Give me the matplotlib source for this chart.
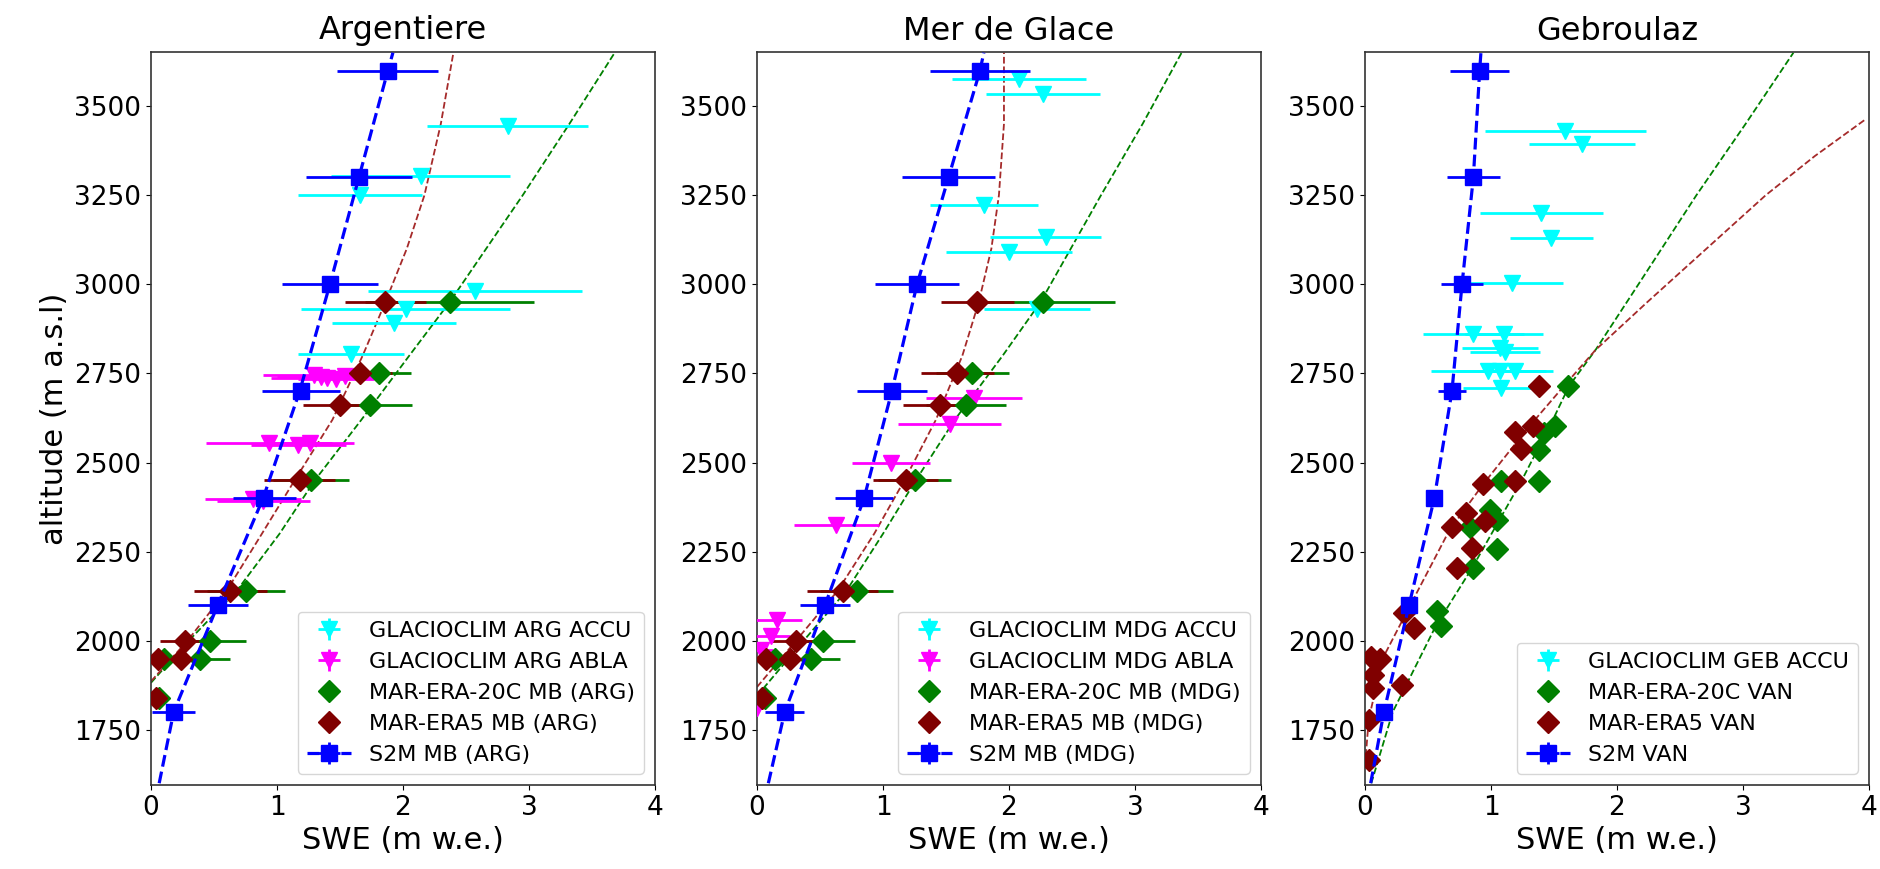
import numpy as np
import matplotlib.pyplot as plt

plt.rcParams['font.family'] = 'DejaVu Sans'

# ---------------- Argentiere ----------------
arg_s2m_alt = [1800, 2100, 2400, 2700, 3000, 3300, 3600]
arg_s2m_swe = [0.18, 0.53, 0.90, 1.19, 1.42, 1.65, 1.88]
arg_s2m_err = [0.17, 0.24, 0.25, 0.31, 0.38, 0.42, 0.40]
arg_s2m_fit_alt = [1600, 1800, 2100, 2400, 2700, 3000, 3300, 3600, 3650]
arg_s2m_fit_swe = [0.065, 0.18, 0.53, 0.89, 1.18, 1.42, 1.65, 1.88, 1.92]

arg_accu_alt = [3445, 3304, 3252, 2982, 2931, 2891, 2804]
arg_accu_swe = [2.83, 2.14, 1.66, 2.57, 2.02, 1.93, 1.59]
arg_accu_err = [0.64, 0.71, 0.49, 0.85, 0.83, 0.49, 0.42]

arg_abla_alt = [2745, 2740, 2737, 2735, 2742, 2555, 2550, 2555, 2398, 2393]
arg_abla_swe = [1.29, 1.35, 1.40, 1.47, 1.54, 0.94, 1.17, 1.26, 0.81, 0.89]
arg_abla_err = [0.40, 0.35, 0.45, 0.30, 0.30, 0.50, 0.38, 0.35, 0.38, 0.37]

mar_alt = [2950, 2750, 2660, 2450, 2140, 2000, 1948, 1948, 1840]
arg_20c_swe = [2.37, 1.81, 1.74, 1.27, 0.755, 0.47, 0.39, 0.10, 0.06]
arg_20c_err = [0.67, 0.25, 0.33, 0.30, 0.31, 0.28, 0.24, 0.0, 0.0]
arg_era5_swe = [1.86, 1.66, 1.50, 1.18, 0.63, 0.27, 0.24, 0.055, 0.04]
arg_era5_err = [0.32, 0.25, 0.29, 0.28, 0.29, 0.20, 0.0, 0.0, 0.0]

arg_era5_fit_alt = [1886, 2000, 2140, 2300, 2450, 2620, 2800, 2950, 3100, 3250, 3450, 3650]
arg_era5_fit_swe = [0.0, 0.29, 0.60, 0.88, 1.14, 1.44, 1.68, 1.86, 2.03, 2.17, 2.30, 2.40]
arg_20c_fit_alt = [1882, 2000, 2140, 2300, 2450, 2620, 2800, 2950, 3100, 3250, 3450, 3650]
arg_20c_fit_swe = [0.0, 0.30, 0.68, 1.02, 1.30, 1.67, 2.05, 2.37, 2.66, 2.95, 3.32, 3.68]

# ---------------- Mer de Glace ----------------
mdg_s2m_swe = [0.22, 0.54, 0.85, 1.07, 1.27, 1.52, 1.77]
mdg_s2m_err = [0.155, 0.20, 0.23, 0.28, 0.33, 0.37, 0.40]
mdg_s2m_fit_swe = [0.09, 0.22, 0.54, 0.85, 1.07, 1.27, 1.52, 1.77, 1.80]

mdg_accu_alt = [3575, 3533, 3224, 3134, 3091, 2931]
mdg_accu_swe = [2.08, 2.27, 1.80, 2.29, 2.00, 2.22]
mdg_accu_err = [0.53, 0.45, 0.43, 0.44, 0.50, 0.42]

mdg_abla_alt = [2680, 2607, 2498, 2325, 2059, 2012, 1975, 1810]
mdg_abla_swe = [1.72, 1.53, 1.06, 0.63, 0.16, 0.11, 0.03, 0.0]
mdg_abla_err = [0.38, 0.41, 0.31, 0.34, 0.20, 0.15, 0.10, 0.05]

mdg_20c_swe = [2.27, 1.71, 1.66, 1.25, 0.79, 0.52, 0.43, 0.14, 0.06]
mdg_20c_err = [0.57, 0.29, 0.32, 0.29, 0.29, 0.26, 0.23, 0.0, 0.0]
mdg_era5_swe = [1.75, 1.59, 1.45, 1.18, 0.68, 0.31, 0.26, 0.075, 0.04]
mdg_era5_err = [0.29, 0.29, 0.29, 0.26, 0.28, 0.20, 0.0, 0.0, 0.0]

mdg_era5_fit_alt = [1870, 2000, 2140, 2300, 2450, 2620, 2800, 2950, 3100, 3250, 3450, 3650]
mdg_era5_fit_swe = [0.0, 0.31, 0.64, 0.93, 1.17, 1.42, 1.63, 1.76, 1.86, 1.92, 1.96, 1.96]
mdg_20c_fit_alt = [1845, 2000, 2140, 2300, 2450, 2620, 2800, 2950, 3100, 3250, 3450, 3650]
mdg_20c_fit_swe = [0.0, 0.37, 0.71, 1.00, 1.26, 1.57, 1.95, 2.25, 2.49, 2.73, 3.06, 3.37]

# ---------------- Gebroulaz ----------------
geb_s2m_swe = [0.15, 0.35, 0.55, 0.69, 0.77, 0.86, 0.91]
geb_s2m_err = [0.06, 0.06, 0.06, 0.11, 0.17, 0.21, 0.235]
geb_s2m_fit_swe = [0.045, 0.15, 0.35, 0.55, 0.69, 0.77, 0.86, 0.91, 0.92]

geb_accu_alt = [3430, 3393, 3201, 3131, 3004, 2860, 2860, 2820, 2811, 2757, 2757, 2757, 2710]
geb_accu_swe = [1.59, 1.72, 1.40, 1.48, 1.17, 0.86, 1.10, 1.07, 1.11, 0.98, 1.07, 1.19, 1.08]
geb_accu_err = [0.64, 0.42, 0.49, 0.33, 0.40, 0.40, 0.31, 0.30, 0.28, 0.46, 0.35, 0.30, 0.30]

geb_20c_alt = [2715, 2603, 2582, 2535, 2447, 2447, 2367, 2339, 2320, 2257, 2204, 2082, 2040]
geb_20c_swe = [1.61, 1.51, 1.42, 1.38, 1.38, 1.08, 0.99, 1.05, 0.83, 1.05, 0.86, 0.57, 0.60]
geb_era5_alt = [2715, 2603, 2587, 2537, 2447, 2440, 2358, 2335, 2320, 2260, 2204, 2079, 2035,
                1955, 1948, 1904, 1876, 1867, 1778, 1666]
geb_era5_swe = [1.38, 1.33, 1.19, 1.24, 1.19, 0.94, 0.80, 0.955, 0.69, 0.85, 0.73, 0.31, 0.39,
                0.045, 0.12, 0.06, 0.29, 0.06, 0.03, 0.03]

geb_era5_fit_alt = [1650, 1780, 1950, 2100, 2310, 2440, 2600, 2715, 2816, 2950, 3100, 3250, 3360, 3465]
geb_era5_fit_swe = [0.0, 0.03, 0.14, 0.36, 0.67, 0.94, 1.30, 1.58, 1.83, 2.24, 2.71, 3.18, 3.57, 3.98]
geb_20c_fit_alt = [1600, 1800, 2040, 2204, 2447, 2619, 2715, 2816, 3000, 3250, 3450, 3650]
geb_20c_fit_swe = [0.05, 0.22, 0.56, 0.85, 1.24, 1.49, 1.62, 1.83, 2.17, 2.63, 3.02, 3.40]

s2m_alt = arg_s2m_alt
s2m_fit_alt = arg_s2m_fit_alt

titles = ['Argentiere', 'Mer de Glace', 'Gebroulaz']

fig = plt.figure(figsize=(18.8, 8.69), dpi=100)
lefts = [151 / 1880, 757 / 1880, 1365 / 1880]
axes = [fig.add_axes([l, 1 - 785 / 869, 504 / 1880, 733 / 869]) for l in lefts]


def obs(ax, swe, alt, err, color, label):
    return ax.errorbar(swe, alt, xerr=err, yerr=np.zeros(len(alt)), fmt='v', color=color,
                       ms=11, elinewidth=2, label=label, zorder=3)


def model(ax, swe, alt, err, color, label):
    if err is not None:
        ax.errorbar(swe, alt, xerr=err, fmt='none', ecolor=color, elinewidth=2, zorder=2)
    h, = ax.plot(swe, alt, 'D', color=color, ms=11, ls='none', label=label, zorder=4)
    return h


def s2m(ax, swe, err, fit_swe, label):
    ax.plot(fit_swe, s2m_fit_alt, '--', color='blue', lw=2.3, zorder=5)
    ax.errorbar(swe, s2m_alt, xerr=err, fmt='s', color='blue', ms=11, elinewidth=2, zorder=6)
    proxy = ax.errorbar([np.nan], [np.nan], xerr=[0.1], yerr=[0.1], fmt='s--', color='blue',
                        ms=11, lw=2.3, elinewidth=2, label=label)
    return proxy


# Argentiere
ax = axes[0]
h = []
h.append(obs(ax, arg_accu_swe, arg_accu_alt, arg_accu_err, 'cyan', 'GLACIOCLIM ARG ACCU'))
h.append(obs(ax, arg_abla_swe, arg_abla_alt, arg_abla_err, 'magenta', 'GLACIOCLIM ARG ABLA'))
ax.plot(arg_20c_fit_swe, arg_20c_fit_alt, '--', color='green', lw=1.3, zorder=1)
ax.plot(arg_era5_fit_swe, arg_era5_fit_alt, '--', color='brown', lw=1.3, zorder=1)
h.append(model(ax, arg_20c_swe, mar_alt, arg_20c_err, 'green', 'MAR-ERA-20C MB (ARG)'))
h.append(model(ax, arg_era5_swe, mar_alt, arg_era5_err, 'maroon', 'MAR-ERA5 MB (ARG)'))
h.append(s2m(ax, arg_s2m_swe, arg_s2m_err, arg_s2m_fit_swe, 'S2M MB (ARG)'))
ax.legend(handles=h, loc='lower right', fontsize=16)
ax.set_ylabel('altitude (m a.s.l)', fontsize=22)

# Mer de Glace
ax = axes[1]
h = []
h.append(obs(ax, mdg_accu_swe, mdg_accu_alt, mdg_accu_err, 'cyan', 'GLACIOCLIM MDG ACCU'))
h.append(obs(ax, mdg_abla_swe, mdg_abla_alt, mdg_abla_err, 'magenta', 'GLACIOCLIM MDG ABLA'))
ax.plot(mdg_20c_fit_swe, mdg_20c_fit_alt, '--', color='green', lw=1.3, zorder=1)
ax.plot(mdg_era5_fit_swe, mdg_era5_fit_alt, '--', color='brown', lw=1.3, zorder=1)
h.append(model(ax, mdg_20c_swe, mar_alt, mdg_20c_err, 'green', 'MAR-ERA-20C MB (MDG)'))
h.append(model(ax, mdg_era5_swe, mar_alt, mdg_era5_err, 'maroon', 'MAR-ERA5 MB (MDG)'))
h.append(s2m(ax, mdg_s2m_swe, mdg_s2m_err, mdg_s2m_fit_swe, 'S2M MB (MDG)'))
ax.legend(handles=h, loc='lower right', fontsize=16)

# Gebroulaz
ax = axes[2]
h = []
h.append(obs(ax, geb_accu_swe, geb_accu_alt, geb_accu_err, 'cyan', 'GLACIOCLIM GEB ACCU'))
ax.plot(geb_20c_fit_swe, geb_20c_fit_alt, '--', color='green', lw=1.3, zorder=1)
ax.plot(geb_era5_fit_swe, geb_era5_fit_alt, '--', color='brown', lw=1.3, zorder=1)
h.append(model(ax, geb_20c_swe, geb_20c_alt, None, 'green', 'MAR-ERA-20C VAN'))
h.append(model(ax, geb_era5_swe, geb_era5_alt, None, 'maroon', 'MAR-ERA5 VAN'))
h.append(s2m(ax, geb_s2m_swe, geb_s2m_err, geb_s2m_fit_swe, 'S2M VAN'))
ax.legend(handles=h, loc='lower right', fontsize=16)

for ax, t in zip(axes, titles):
    ax.set_xlim(0, 4)
    ax.set_ylim(1595, 3652)
    ax.set_xticks([0, 1, 2, 3, 4])
    ax.set_yticks(np.arange(1750, 3501, 250))
    ax.tick_params(labelsize=19)
    ax.set_xlabel('SWE (m w.e.)', fontsize=22)
    ax.set_title(t, fontsize=23, pad=9)
    for sp in ax.spines.values():
        sp.set_color('0.2')
        sp.set_linewidth(1.2)

fig.savefig('out.png', dpi=100)
